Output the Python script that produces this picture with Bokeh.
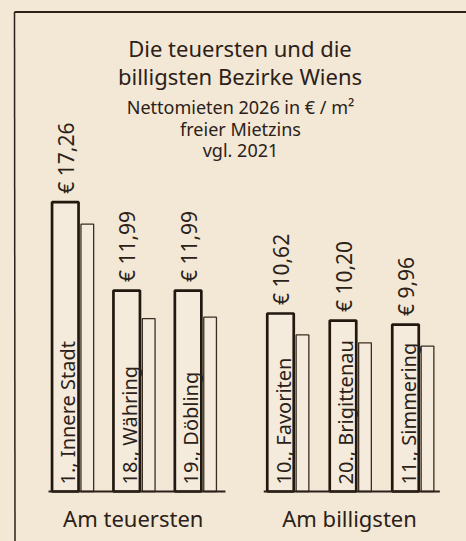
import numpy as np
from bokeh.plotting import figure
from bokeh.models import Range1d, ColumnDataSource
from bokeh.core.properties import value
from bokeh.embed import file_html
from bokeh.resources import INLINE

# ---------------- data ----------------
districts = ["1., Innere Stadt", "18., Währing", "19., Döbling",
             "10., Favoriten", "20., Brigittenau", "11., Simmering"]
rent_2026 = [17.26, 11.99, 11.99, 10.62, 10.20, 9.96]
rent_2021 = [15.95, 10.32, 10.40, 9.34, 8.87, 8.67]
group_of = [0, 0, 0, 1, 1, 1]
groups = ["Am teuersten", "Am billigsten"]
title_lines = ["Die teuersten und die", "billigsten Bezirke Wiens"]
subtitle_lines = ["Nettomieten 2026 in € / m²", "freier Mietzins", "vgl. 2021"]

# ---------------- layout ----------------
BG = "#f3e7d5"
INK = "#2b2118"
FONT = value("Noto Sans")
W, H = 466, 541
BASE = 491.0      # screen y of value 0
SCALE = 16.76     # px per euro


def vy(sy):
    return (BASE - sy) / SCALE


group_start = [64.8, 280.0]
group_step = [61.4, 62.5]
idx_in_group = [0, 1, 2, 0, 1, 2]
centers = [group_start[g] + i * group_step[g] for g, i in zip(group_of, idx_in_group)]

w_new = 26.5
w_old = 12.7
off_old = 22.0

p = figure(width=W, height=H, x_range=Range1d(0, W), y_range=Range1d(vy(H), vy(0)),
           output_backend="svg", toolbar_location=None, min_border=0,
           x_axis_location=None, y_axis_location=None,
           background_fill_color=BG, border_fill_color=BG, outline_line_color=None)
p.grid.visible = False

# frame (top and left lines)
p.line(x=[14, W], y=[vy(11.5), vy(11.5)], line_color=INK, line_width=2)
p.line(x=[14, 14.5], y=[vy(11.5), vy(H)], line_color=INK, line_width=1.5)

old_src = ColumnDataSource(dict(
    left=[c + off_old - w_old / 2 for c in centers],
    right=[c + off_old + w_old / 2 for c in centers],
    top=rent_2021, bottom=[0] * len(centers)))
p.quad(left="left", right="right", top="top", bottom="bottom", source=old_src,
       fill_color="#f5ebdc", line_color="#3a2e22", line_width=1.3)

new_src = ColumnDataSource(dict(
    left=[c - w_new / 2 for c in centers],
    right=[c + w_new / 2 for c in centers],
    top=rent_2026, bottom=[0] * len(centers)))
p.quad(left="left", right="right", top="top", bottom="bottom", source=new_src,
       fill_color="#f5ebdc", line_color="#22180f", line_width=2.7)

# baselines per group
for g in range(2):
    cs = [c for c, gg in zip(centers, group_of) if gg == g]
    x0 = cs[0] - w_new / 2 - 3.5
    x1 = cs[-1] + off_old + w_old / 2 + (9 if g == 0 else 6)
    p.line(x=[x0, x1], y=[0, 0], line_color=INK, line_width=2)

# value labels
val_txt = ["€ " + f"{v:.2f}".replace(".", ",") for v in rent_2026]
p.text(x=[c + 0.5 for c in centers], y=[v + 8.5 / SCALE for v in rent_2026], text=val_txt,
       angle=np.pi / 2, text_align="left", text_baseline="middle",
       text_font=FONT, text_font_size="21px", text_color=INK)

# category labels inside bars
p.text(x=[c + 2.5 for c in centers], y=[7 / SCALE] * len(centers), text=districts,
       angle=np.pi / 2, text_align="left", text_baseline="middle",
       text_font=FONT, text_font_size="20px", text_color=INK)

# group labels
gcenters = []
for g in range(2):
    cs = [c for c, gg in zip(centers, group_of) if gg == g]
    gcenters.append((cs[0] - w_new / 2 + cs[-1] + off_old + w_old / 2) / 2 - 1)
p.text(x=gcenters, y=[vy(517)] * 2, text=groups, text_align="center",
       text_baseline="middle", text_font=FONT, text_font_size="22px", text_color=INK)

# title and subtitle
cx = 239.5
p.text(x=[cx] * 2, y=[vy(47), vy(75)], text=title_lines, text_align="center",
       text_baseline="middle", text_font=FONT, text_font_size="22px", text_color=INK)
p.text(x=[cx + 0.5] * 3, y=[vy(106.6), vy(128.6), vy(149.6)], text=subtitle_lines,
       text_align="center", text_baseline="middle", text_font=FONT,
       text_font_size="18px", text_color=INK)

html = file_html(p, INLINE, title="Bezirke Wien")
html = html.replace("</head>",
                    "<style>html,body{margin:0;padding:0;background:%s;overflow:hidden}</style></head>" % BG, 1)
open("out.html", "w").write(html)
